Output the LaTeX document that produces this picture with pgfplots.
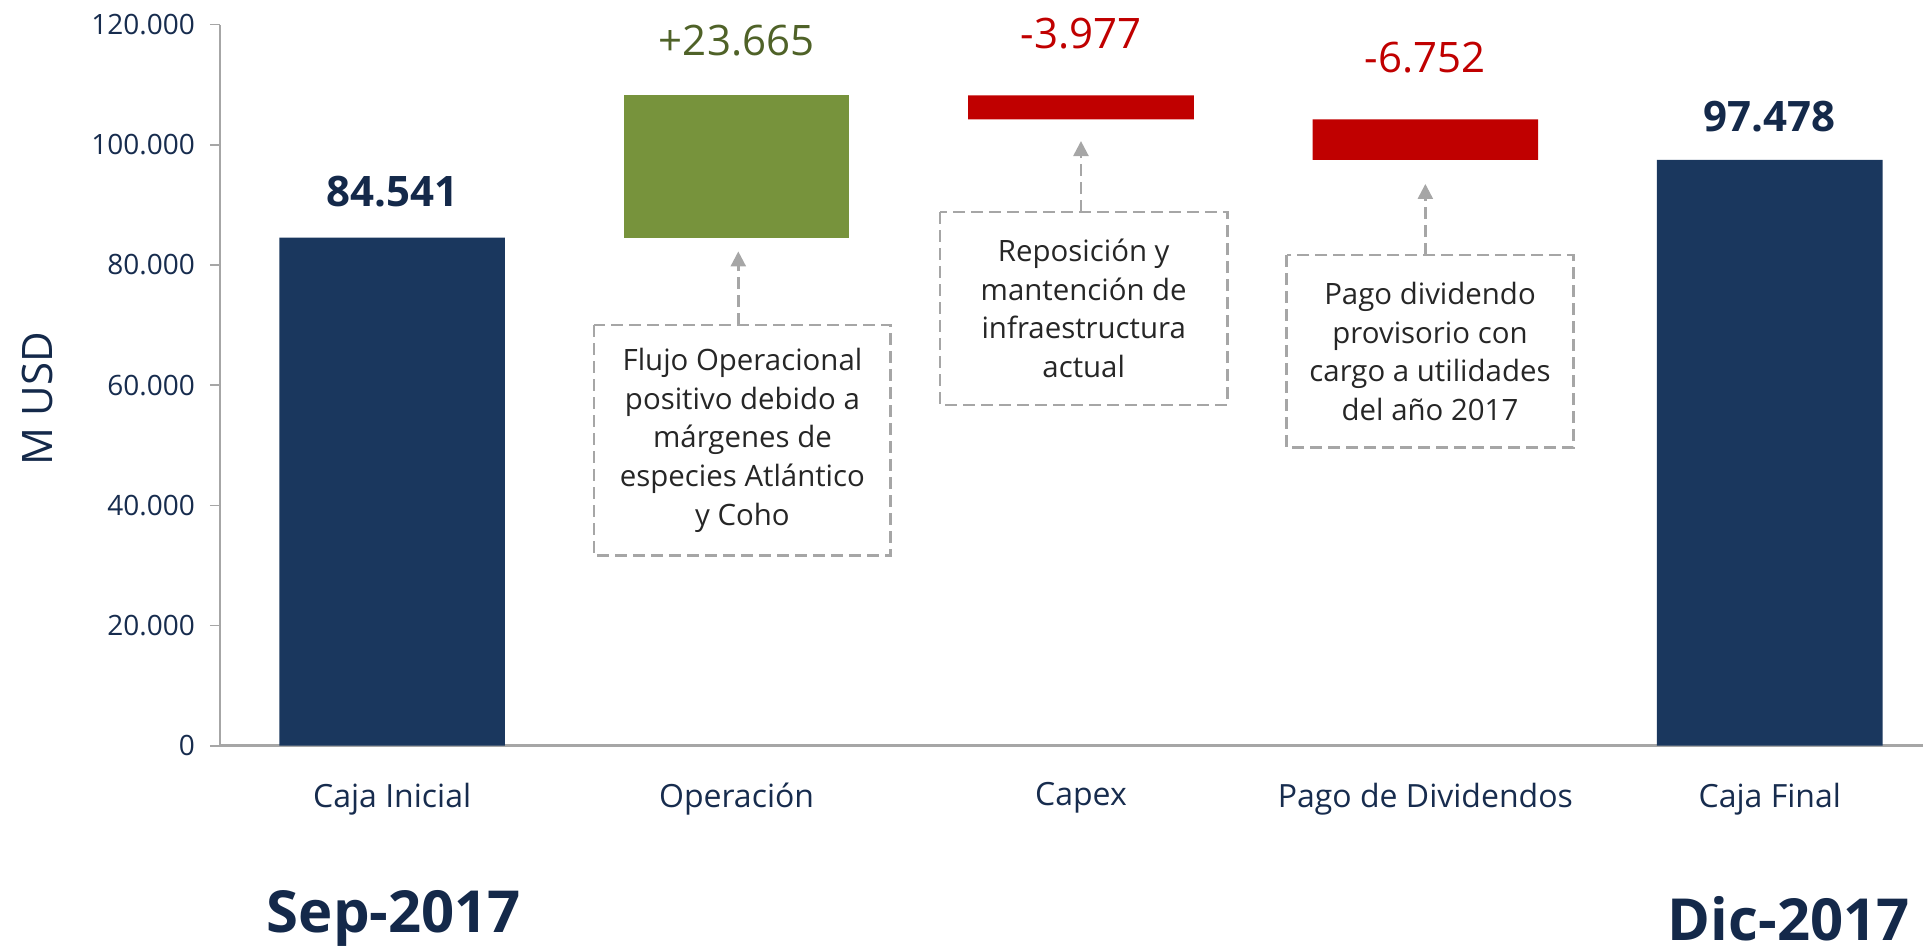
\documentclass[border=0pt]{standalone}
\usepackage{fontspec}
\setmainfont{Open Sans}
\usepackage{pgfplots}
\pgfplotsset{compat=1.18}
\usetikzlibrary{arrows.meta}
\definecolor{barnavy}{HTML}{1A375E}
\definecolor{labnavy}{HTML}{14294A}
\definecolor{ticknavy}{HTML}{172C4E}
\definecolor{bargreen}{HTML}{77933C}
\definecolor{txtgreen}{HTML}{4F6228}
\definecolor{barred}{HTML}{C00000}
\definecolor{axgray}{HTML}{A6A6A6}
\definecolor{notegray}{HTML}{262626}
\begin{document}
\begin{tikzpicture}
\path[use as bounding box] (-110pt,-102.15pt) rectangle (851.5pt,372.85pt);
\begin{axis}[
  at={(0pt,0pt)}, anchor=south west,
  scale only axis, width=851.5pt, height=360.6pt,
  xmin=-0.5, xmax=4.445, ymin=0, ymax=120000,
  clip=false,
  ybar stacked, bar width=0.655,
  axis x line*=bottom, axis y line*=left,
  x axis line style={line width=1.5pt, color=axgray},
  y axis line style={line width=0.8pt, color=axgray},
  xtick={0,1,2,3,4},
  xticklabels={Caja Inicial, Operación, Capex, Pago de Dividendos, Caja Final},
  major x tick style={draw=none},
  xticklabel style={font=\fontsize{16}{19}\selectfont, text=ticknavy, yshift=-10pt},
  ytick={0,20000,40000,60000,80000,100000,120000},
  scaled y ticks=false,
  tick align=outside,
  major tick length=5pt,
  major y tick style={line width=0.8pt, color=axgray},
  yticklabel style={font=\fontsize{14}{16}\selectfont, text=ticknavy, xshift=-4pt,
    /pgf/number format/.cd, fixed, precision=0, 1000 sep={.}, assume math mode=true},
]
\addplot[fill=none, draw=none] coordinates {(0,0) (1,84541) (2,104229) (3,97477) (4,0)};
\addplot[fill=barnavy, draw=none] coordinates {(0,84541) (1,0) (2,0) (3,0) (4,97478)};
\addplot[fill=bargreen, draw=none] coordinates {(0,0) (1,23665) (2,0) (3,0) (4,0)};
\addplot[fill=barred, draw=none] coordinates {(0,0) (1,0) (2,3977) (3,6752) (4,0)};

% value labels
\node[font=\bfseries\fontsize{21}{25}\selectfont, text=labnavy] at (axis cs:0,92200) {84.541};
\node[font=\fontsize{21}{25}\selectfont, text=txtgreen] at (axis cs:1,117347) {+23.665};
\node[font=\fontsize{21}{25}\selectfont, text=barred] at (axis cs:2,118571) {-3.977};
\node[font=\fontsize{21}{25}\selectfont, text=barred] at (axis cs:3,114490) {-6.752};
\node[font=\bfseries\fontsize{21}{25}\selectfont, text=labnavy] at (axis cs:4,104700) {97.478};

% annotation boxes
\tikzset{notebox/.style={axgray, line width=1.2pt, dash pattern=on 6pt off 3pt},
         notearrow/.style={axgray, line width=1.2pt, dash pattern=on 6pt off 3pt, -{Triangle[width=7.5pt,length=7.5pt]}}}
\draw[notebox] (axis cs:0.586,70000) rectangle (axis cs:1.4475,31633);
\draw[notearrow] (axis cs:1.005,70000) -- (axis cs:1.005,82245);
\node[font=\fontsize{14.7}{19.3}\selectfont, text=notegray, align=center] at (axis cs:1.017,50816)
  {Flujo Operacional\\positivo debido a\\márgenes de\\especies Atlántico\\y Coho};

\draw[notebox] (axis cs:1.590,88776) rectangle (axis cs:2.426,56735);
\draw[notearrow] (axis cs:2.0,88776) -- (axis cs:2.0,100612);
\node[font=\fontsize{14.7}{19.3}\selectfont, text=notegray, align=center] at (axis cs:2.008,72755)
  {Reposición y\\mantención de\\infraestructura\\actual};

\draw[notebox] (axis cs:2.597,81633) rectangle (axis cs:3.430,49592);
\draw[notearrow] (axis cs:3.0,81633) -- (axis cs:3.0,93469);
\node[font=\fontsize{14.7}{19.3}\selectfont, text=notegray, align=center] at (axis cs:3.0135,65612)
  {Pago dividendo\\provisorio con\\cargo a utilidades\\del año 2017};

% period labels
\node[font=\bfseries\fontsize{29}{34}\selectfont, text=labnavy] at ([yshift=-86.5pt]axis cs:0.005,0) {Sep-2017};
\node[font=\bfseries\fontsize{29}{34}\selectfont, text=labnavy, inner sep=0pt] at ([yshift=-86.5pt]axis cs:4.055,0) {Dic-2017};

% y label
\node[font=\fontsize{21}{25}\selectfont, text=labnavy, rotate=90] at ([xshift=-91pt]rel axis cs:0,0.481) {M USD};
\end{axis}
\end{tikzpicture}
\end{document}
